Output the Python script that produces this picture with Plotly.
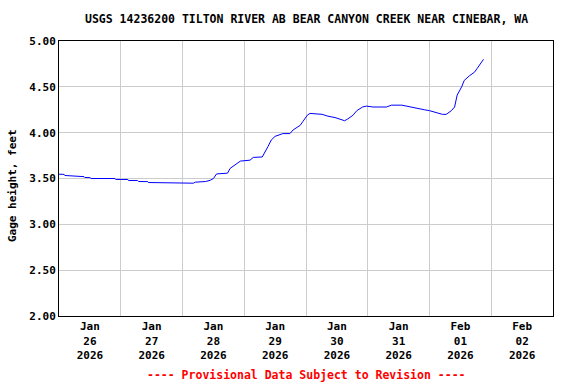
import plotly.graph_objects as go

times = [
    "2026-01-26 00:00", "2026-01-26 02:00", "2026-01-26 02:15", "2026-01-26 05:15",
    "2026-01-26 05:45", "2026-01-26 09:45", "2026-01-26 10:00", "2026-01-26 12:00",
    "2026-01-26 12:30", "2026-01-26 21:45", "2026-01-26 22:00", "2026-01-27 02:45",
    "2026-01-27 03:00", "2026-01-27 06:30", "2026-01-27 07:00", "2026-01-27 10:30",
    "2026-01-27 10:45", "2026-01-27 14:15", "2026-01-27 14:45", "2026-01-28 04:15",
    "2026-01-28 05:00", "2026-01-28 09:00", "2026-01-28 10:45", "2026-01-28 12:00",
    "2026-01-28 13:15", "2026-01-28 17:30", "2026-01-28 18:30", "2026-01-28 20:30",
    "2026-01-28 22:30", "2026-01-29 02:15", "2026-01-29 03:30", "2026-01-29 07:00",
    "2026-01-29 08:00", "2026-01-29 09:15", "2026-01-29 10:30", "2026-01-29 12:00",
    "2026-01-29 15:00", "2026-01-29 17:45", "2026-01-29 19:00", "2026-01-29 21:45",
    "2026-01-29 22:45", "2026-01-30 00:30", "2026-01-30 01:30", "2026-01-30 06:15",
    "2026-01-30 08:30", "2026-01-30 11:15", "2026-01-30 14:00", "2026-01-30 15:00",
    "2026-01-30 16:15", "2026-01-30 18:15", "2026-01-30 19:45", "2026-01-30 22:00",
    "2026-01-30 23:30", "2026-01-31 02:00", "2026-01-31 07:15", "2026-01-31 09:15",
    "2026-01-31 13:15", "2026-01-31 16:15", "2026-01-31 19:00", "2026-01-31 22:00",
    "2026-02-01 00:00", "2026-02-01 02:45", "2026-02-01 05:00", "2026-02-01 06:30",
    "2026-02-01 08:30", "2026-02-01 09:45", "2026-02-01 10:45", "2026-02-01 12:30",
    "2026-02-01 13:30", "2026-02-01 15:30", "2026-02-01 17:30", "2026-02-01 18:30",
    "2026-02-01 20:15", "2026-02-01 21:00",
]
gage_height = [
    3.547, 3.545, 3.533, 3.530,
    3.522, 3.520, 3.511, 3.510,
    3.500, 3.500, 3.490, 3.489,
    3.478, 3.478, 3.467, 3.466,
    3.456, 3.455, 3.449, 3.449,
    3.460, 3.467, 3.480, 3.500,
    3.550, 3.558, 3.610, 3.650,
    3.690, 3.700, 3.730, 3.735,
    3.780, 3.850, 3.920, 3.960,
    3.990, 3.990, 4.030, 4.080,
    4.120, 4.190, 4.210, 4.200,
    4.180, 4.165, 4.140, 4.130,
    4.150, 4.190, 4.240, 4.280,
    4.290, 4.280, 4.280, 4.300,
    4.300, 4.280, 4.270, 4.250,
    4.240, 4.220, 4.200, 4.200,
    4.240, 4.280, 4.410, 4.500,
    4.570, 4.620, 4.660, 4.700,
    4.780, 4.800,
]

tick_positions = ["2026-01-26 12:00", "2026-01-27 12:00", "2026-01-28 12:00", "2026-01-29 12:00",
                  "2026-01-30 12:00", "2026-01-31 12:00", "2026-02-01 12:00", "2026-02-02 12:00"]
tick_labels = ["Jan<br>26<br>2026", "Jan<br>27<br>2026", "Jan<br>28<br>2026", "Jan<br>29<br>2026",
               "Jan<br>30<br>2026", "Jan<br>31<br>2026", "Feb<br>01<br>2026", "Feb<br>02<br>2026"]

title_text = "USGS 14236200 TILTON RIVER AB BEAR CANYON CREEK NEAR CINEBAR, WA"
footer_text = "---- Provisional Data Subject to Revision ----"
y_title = "Gage height, feet"

MONO = "DejaVu Sans Mono"
PL, PR, PT, PB = 59, 553, 41, 316
PW, PH = PR - PL, PB - PT

fig = go.Figure(go.Scatter(x=times, y=gage_height, mode="lines",
                           line=dict(color="#0000ff", width=1), hoverinfo="skip"))

fig.update_layout(
    width=576, height=384,
    margin=dict(l=PL, r=576 - PR, t=PT, b=384 - PB, autoexpand=False),
    paper_bgcolor="white", plot_bgcolor="white",
    showlegend=False,
    font=dict(family=MONO, size=11, color="black", weight="bold"),
    annotations=[
        dict(text=title_text, xref="paper", yref="paper", showarrow=False,
             x=(306 - PL) / PW, y=1 + (PT - 19) / PH, xanchor="center", yanchor="middle",
             font=dict(family=MONO, size=11.5, color="black", weight="bold")),
        dict(text=footer_text, xref="paper", yref="paper", showarrow=False,
             x=(306 - PL) / PW, y=-(375 - PB) / PH, xanchor="center", yanchor="middle",
             font=dict(family=MONO, size=11.5, color="#ff0000", weight="bold")),
        dict(text=y_title, xref="paper", yref="paper", showarrow=False, textangle=-90,
             x=-(PL - 12) / PW, y=(PB - 186) / PH, xanchor="center", yanchor="middle",
             font=dict(family=MONO, size=11, color="black", weight="bold")),
    ],
)

fig.update_xaxes(
    type="date", automargin=False,
    range=["2026-01-26 00:00", "2026-02-03 00:00"],
    tickvals=tick_positions, ticktext=tick_labels,
    tickfont=dict(family=MONO, size=11, color="black", weight="bold"),
    showgrid=False, ticks="", ticklen=0,
    showline=True, linecolor="black", linewidth=1, mirror=True,
    zeroline=False,
    minor=dict(tick0="2026-01-26", dtick=86400000, showgrid=True,
               gridcolor="#cccccc", gridwidth=1, ticks=""),
)
fig.update_yaxes(
    automargin=False,
    range=[2, 5], dtick=0.5, tick0=2, tickformat=".2f",
    tickfont=dict(family=MONO, size=11, color="black", weight="bold"),
    showgrid=True, gridcolor="#cccccc", gridwidth=1,
    showline=True, linecolor="black", linewidth=1, mirror=True,
    zeroline=False, ticks="",
)

fig.write_html("out.html", config={"displayModeBar": False, "staticPlot": True},
               post_script="document.body.style.margin='0';document.body.style.padding='0';")
